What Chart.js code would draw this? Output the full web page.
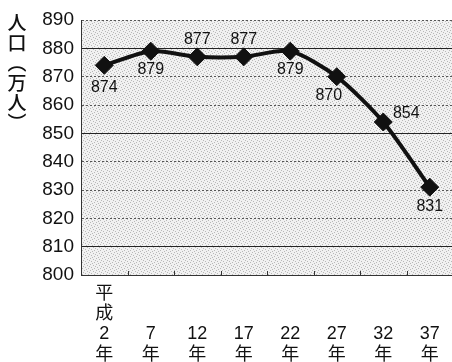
<!DOCTYPE html>
<html>
<head>
<meta charset="utf-8">
<script src="https://cdn.jsdelivr.net/npm/chart.js@4"></script>
<style>
  html, body { margin: 0; padding: 0; background: #fff; overflow: hidden; }
  /* the last x label hangs past the plot edge, so the canvas runs a little wider than the page */
  #wrap { width: 463px; height: 362px; position: relative; }
</style>
</head>
<body>
<div id="wrap"><canvas id="pop"></canvas></div>
<script>
// 人口推移（平成2年〜37年）
const years = [['平', '成', '2', '年'], ['', '', '7', '年'], ['', '', '12', '年'], ['', '', '17', '年'],
               ['', '', '22', '年'], ['', '', '27', '年'], ['', '', '32', '年'], ['', '', '37', '年']];
const population = [874, 879, 877, 877, 879, 870, 854, 831];
const yTicks = [800, 810, 820, 830, 840, 850, 860, 870, 880, 890];
const solidLines = [880, 850, 810];
const yTitle = ['人', '口', '︵', '万', '人', '︶'];

// where each value label sits relative to its marker
const labelOffsets = [[0, 22], [0, 18], [0, -17], [0, -17], [0, 18], [-8, 19], [23, -8], [0, 19]];

const NUM_FONT = '"Liberation Sans", Arial, sans-serif';
const CJK_FONT = '"Liberation Sans", "Noto Sans CJK JP", sans-serif';

// stipple fill for the plot area
function stipple() {
  const c = document.createElement('canvas');
  c.width = 6; c.height = 6;
  const g = c.getContext('2d');
  g.fillStyle = '#f1f1f1';
  g.fillRect(0, 0, 6, 6);
  g.fillStyle = '#b8b8b8';
  [[0,0],[3,1],[1,3],[4,4],[5,2],[2,5]].forEach(p => g.fillRect(p[0], p[1], 1, 1));
  return g.createPattern(c, 'repeat');
}

const decor = {
  id: 'decor',
  beforeDraw(chart) {
    const { ctx, chartArea: a } = chart;
    ctx.save();
    ctx.fillStyle = stipple();
    ctx.fillRect(a.left, a.top, a.right - a.left, a.bottom - a.top);
    ctx.restore();
  },
  afterDatasetsDraw(chart) {
    const { ctx, chartArea: a, scales: { x, y } } = chart;
    ctx.save();
    // small tick marks between categories along the bottom
    ctx.strokeStyle = '#333';
    ctx.lineWidth = 1;
    for (let i = 0; i < population.length - 1; i++) {
      const px = Math.round((x.getPixelForValue(i) + x.getPixelForValue(i + 1)) / 2) + 0.5;
      ctx.beginPath();
      ctx.moveTo(px, a.bottom);
      ctx.lineTo(px, a.bottom - 4);
      ctx.stroke();
    }
    // value labels
    ctx.fillStyle = '#111';
    ctx.font = '16px ' + NUM_FONT;
    ctx.textAlign = 'center';
    ctx.textBaseline = 'middle';
    population.forEach((v, i) => {
      const o = labelOffsets[i];
      ctx.fillText(String(v), x.getPixelForValue(i) + o[0], y.getPixelForValue(v) + o[1]);
    });
    // vertical axis title
    ctx.font = '500 19px "Noto Sans CJK JP", sans-serif';
    let ty = 23;
    yTitle.forEach(ch => {
      ctx.fillText(ch, 17, ty);
      ty += 20;
    });
    ctx.restore();
  }
};

new Chart(document.getElementById('pop'), {
  type: 'line',
  data: {
    labels: years,
    datasets: [{
      data: population,
      borderColor: '#111',
      borderWidth: 4,
      tension: 0.25,
      pointStyle: 'rectRot',
      pointRadius: 9,
      pointBackgroundColor: '#111',
      pointBorderColor: '#111',
      pointBorderWidth: 1
    }]
  },
  options: {
    responsive: true,
    maintainAspectRatio: false,
    animation: false,
    layout: { padding: { top: 20, right: 0, left: 0, bottom: 0 } },
    plugins: { legend: { display: false }, tooltip: { enabled: false } },
    scales: {
      x: {
        offset: true,
        grid: { display: false },
        border: { display: true, color: '#333', dash: [2, 2] },
        ticks: { color: '#111', font: { size: 18, family: CJK_FONT, lineHeight: 1.12 }, padding: 1, maxRotation: 0, autoSkip: false },
        afterFit(s) { s.height = 87; }
      },
      y: {
        min: 800,
        max: 890,
        afterBuildTicks(s) { s.ticks = yTicks.map(v => ({ value: v })); },
        grid: {
          drawTicks: false,
          color: ctx => (solidLines.includes(ctx.tick && ctx.tick.value) ? '#222' : '#555'),
          lineWidth: 1
        },
        border: {
          display: true,
          color: '#333',
          dash: ctx => (solidLines.includes(ctx.tick && ctx.tick.value) ? [] : [2, 2])
        },
        ticks: { color: '#111', font: { size: 19, family: NUM_FONT }, padding: 7 },
        afterFit(s) { s.width = 81; }
      }
    }
  },
  plugins: [decor]
});
</script>
</body>
</html>
